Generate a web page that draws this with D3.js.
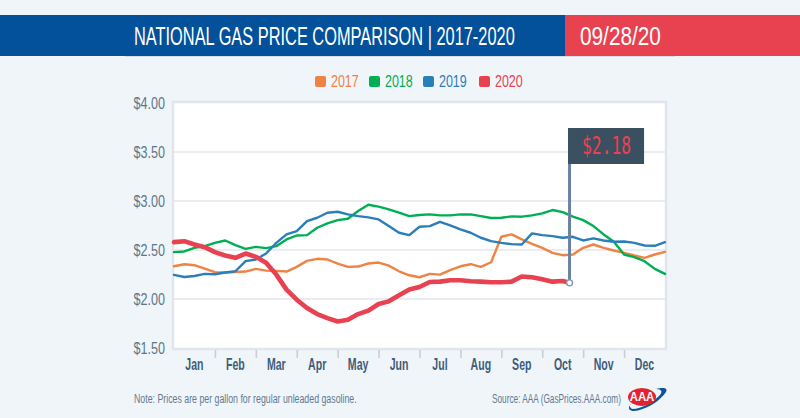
<!DOCTYPE html>
<html>
<head>
<meta charset="utf-8">
<script src="https://cdn.jsdelivr.net/npm/d3@7"></script>
<style>
  html, body { margin: 0; padding: 0; background: #f0f5fa; }
  svg { display: block; }
  text { font-family: "Liberation Sans", sans-serif; }
</style>
</head>
<body>
<div id="page"></div>
<script>
var months = ['Jan', 'Feb', 'Mar', 'Apr', 'May', 'Jun', 'Jul', 'Aug', 'Sep', 'Oct', 'Nov', 'Dec'];
var priceTicks = [1.5, 2, 2.5, 3, 3.5, 4];
var years = ['2017', '2018', '2019', '2020'];

// one reading per quarter of a month
var prices2017 = [2.334, 2.355, 2.345, 2.311, 2.273, 2.27, 2.276, 2.28, 2.307, 2.29, 2.287, 2.28, 2.328, 2.389, 2.41, 2.403,
  2.362, 2.328, 2.331, 2.362, 2.372, 2.341, 2.283, 2.242, 2.222, 2.256, 2.249, 2.294, 2.334, 2.355, 2.328, 2.375,
  2.635, 2.659, 2.608, 2.563, 2.522, 2.471, 2.447, 2.454, 2.522, 2.556, 2.522, 2.495, 2.471, 2.444, 2.42, 2.454, 2.481];
var prices2018 = [2.478, 2.485, 2.522, 2.539, 2.573, 2.597, 2.549, 2.512, 2.532, 2.519, 2.539, 2.608, 2.648, 2.652, 2.727, 2.771,
  2.805, 2.819, 2.898, 2.962, 2.942, 2.915, 2.881, 2.846, 2.857, 2.863, 2.853, 2.853, 2.863, 2.863, 2.846, 2.826,
  2.829, 2.843, 2.84, 2.853, 2.874, 2.908, 2.887, 2.84, 2.805, 2.744, 2.659, 2.584, 2.454, 2.427, 2.386, 2.307, 2.256];
var prices2019 = [2.246, 2.225, 2.235, 2.256, 2.253, 2.27, 2.283, 2.386, 2.403, 2.464, 2.573, 2.659, 2.693, 2.795, 2.829, 2.88,
  2.89, 2.863, 2.846, 2.833, 2.812, 2.744, 2.676, 2.652, 2.737, 2.744, 2.788, 2.751, 2.71, 2.676, 2.625, 2.59,
  2.573, 2.56, 2.556, 2.669, 2.652, 2.642, 2.625, 2.635, 2.597, 2.618, 2.597, 2.584, 2.587, 2.573, 2.546, 2.543, 2.58];
var prices2020 = [2.58, 2.59, 2.556, 2.529, 2.478, 2.444, 2.42, 2.464, 2.43, 2.369, 2.249, 2.096, 1.993, 1.908, 1.846, 1.805,
  1.771, 1.788, 1.846, 1.881, 1.949, 1.976, 2.038, 2.096, 2.123, 2.174, 2.177, 2.191, 2.191, 2.181, 2.177, 2.171,
  2.171, 2.177, 2.229, 2.222, 2.201, 2.177, 2.184];
var lastMonth = 9.667, lastPrice = 2.165, lastLabel = '$2.18';

var colors = {'2017': '#ee8343', '2018': '#00ae54', '2019': '#2a7fba', '2020': '#e8414f'};
var widths = {'2017': 2.4, '2018': 2.4, '2019': 2.4, '2020': 4.6};

var svg = d3.select('#page').append('svg')
    .attr('width', 800)
    .attr('height', 418);

var x = d3.scaleLinear().domain([0, 12]).range([174, 665]),
    y = d3.scaleLinear().domain([1.5, 4]).range([348, 103]);

// no condensed face is installed, so squeeze text sideways around its own x
var squeeze = function(sel, k) {
  sel.attr('transform', function() {
    var px = +this.getAttribute('x') || 0;
    return 'translate(' + px + ' 0) scale(' + k + ' 1) translate(' + (-px) + ' 0)';
  });
};
var fitTo = function(sel, len) {
  squeeze(sel, len / sel.node().getComputedTextLength());
};

// header band
svg.append('rect').attr('x', 0).attr('y', 15).attr('width', 565).attr('height', 41).attr('fill', '#03519b');
svg.append('rect').attr('x', 565).attr('y', 15).attr('width', 235).attr('height', 41).attr('fill', '#e8414f');
svg.append('rect').attr('x', 125).attr('y', 56).attr('width', 550).attr('height', 1).attr('fill', '#d5dfea');

fitTo(svg.append('text').attr('x', 134).attr('y', 45)
    .attr('font-size', 26).attr('fill', '#fff')
    .text('NATIONAL GAS PRICE COMPARISON | 2017-2020'), 381);
fitTo(svg.append('text').attr('x', 580).attr('y', 45.5)
    .attr('font-size', 26).attr('fill', '#fff')
    .text('09/28/20'), 81);

// legend
var legendX = [315, 369, 423, 479];
var legend = svg.selectAll('g.legend')
    .data(years)
  .enter().append('g')
    .attr('class', 'legend')
    .attr('transform', function(d, i) { return 'translate(' + legendX[i] + ',76)'; });
legend.append('rect')
    .attr('width', 11).attr('height', 11).attr('rx', 2)
    .attr('fill', function(d) { return colors[d]; });
legend.append('text')
    .attr('x', 16).attr('y', 11)
    .attr('font-size', 16)
    .attr('fill', function(d) { return colors[d]; })
    .text(function(d) { return d; })
    .call(squeeze, 0.78);

// plot frame
svg.append('rect')
    .attr('x', x(0) - 1).attr('y', y(4) - 1)
    .attr('width', x(12) - x(0) + 2).attr('height', y(1.5) - y(4) + 2)
    .attr('fill', '#fff').attr('stroke', '#e1e5ec').attr('stroke-width', 2.5);

svg.append('g').selectAll('line')
    .data([2, 2.5, 3, 3.5])
  .enter().append('line')
    .attr('x1', x(0)).attr('x2', x(12))
    .attr('y1', function(d) { return y(d); })
    .attr('y2', function(d) { return y(d); })
    .attr('stroke', '#e4e6ec').attr('stroke-width', 1.6);

// axes
var yAxis = svg.append('g')
    .attr('transform', 'translate(165,0)')
    .call(d3.axisLeft(y).tickValues(priceTicks).tickSize(0).tickPadding(0)
      .tickFormat(function(d) { return '$' + d.toFixed(2); }));
yAxis.select('.domain').remove();
yAxis.selectAll('text')
    .style('font-family', '"Liberation Sans", sans-serif')
    .attr('font-size', 17).attr('fill', '#5d7689')
    .call(squeeze, 0.74);

var xAxis = svg.append('g')
    .attr('transform', 'translate(0,350)')
    .call(d3.axisBottom(x).tickValues(d3.range(1, 12)).tickSize(8).tickFormat(''));
xAxis.select('.domain').remove();
xAxis.selectAll('line').attr('stroke', '#c9ced6').attr('stroke-width', 1.6);

svg.append('g').selectAll('text')
    .data(months)
  .enter().append('text')
    .attr('x', function(d, i) { return x(i + 0.5); })
    .attr('y', 370)
    .attr('text-anchor', 'middle')
    .attr('font-size', 16).attr('font-weight', 'bold')
    .attr('fill', '#3f5d78')
    .text(function(d) { return d; })
    .call(squeeze, 0.66);

// series
var line = d3.line()
    .x(function(d) { return x(d[0]); })
    .y(function(d) { return y(d[1]); });

var toPoints = function(values) {
  return values.map(function(v, i) { return [i / 4, v]; });
};

var series = [
  {year: '2017', points: toPoints(prices2017)},
  {year: '2018', points: toPoints(prices2018)},
  {year: '2019', points: toPoints(prices2019)},
  {year: '2020', points: toPoints(prices2020).concat([[lastMonth, lastPrice]])}
];

svg.append('g').selectAll('path')
    .data(series)
  .enter().append('path')
    .attr('d', function(d) { return line(d.points); })
    .attr('fill', 'none')
    .attr('stroke', function(d) { return colors[d.year]; })
    .attr('stroke-width', function(d) { return widths[d.year]; })
    .attr('stroke-linejoin', 'round')
    .attr('stroke-linecap', 'round');

// flag on the latest price
svg.append('rect')
    .attr('x', x(lastMonth) - 1.5).attr('y', 128)
    .attr('width', 3).attr('height', y(lastPrice) - 128)
    .attr('fill', '#6b83a0');
svg.append('rect')
    .attr('x', x(lastMonth) - 1.5).attr('y', 128)
    .attr('width', 76).attr('height', 36)
    .attr('fill', '#3a4f60');
fitTo(svg.append('text')
    .attr('x', x(lastMonth) + 12.5).attr('y', 154)
    .style('font-family', '"DejaVu Sans Mono", monospace')
    .attr('font-size', 24)
    .attr('fill', '#f0404e')
    .text(lastLabel), 49);
svg.append('circle')
    .attr('cx', x(lastMonth)).attr('cy', y(lastPrice))
    .attr('r', 3)
    .attr('fill', '#fff').attr('stroke', '#8296ad').attr('stroke-width', 1.4);

// footer
fitTo(svg.append('text').attr('x', 134).attr('y', 403)
    .attr('font-size', 13.5).attr('fill', '#63798f')
    .text('Note: Prices are per gallon for regular unleaded gasoline.'), 223);
fitTo(svg.append('text').attr('x', 492).attr('y', 403)
    .attr('font-size', 13.5).attr('fill', '#63798f')
    .text('Source: AAA (GasPrices.AAA.com)'), 129);

// AAA logo
var logo = svg.append('g').attr('transform', 'translate(642,397)');
logo.append('path')
    .attr('d', 'M-12,8 C-15,13 -11,15 -4,13.5 C6,11 18,4 24,-5 C26,-9 22,-10 14,-8 C20,-8 21,-5 17,-1 C10,6 -2,12 -9,12 C-11,12 -12.5,10 -12,8 Z')
    .attr('fill', '#0c549c');
logo.append('ellipse').attr('rx', 14).attr('ry', 9).attr('fill', '#e2232e');
logo.append('text')
    .attr('y', 4).attr('text-anchor', 'middle')
    .attr('font-size', 12).attr('font-weight', 'bold').attr('fill', '#fff')
    .text('AAA')
    .call(squeeze, 0.95);
</script>
</body>
</html>
